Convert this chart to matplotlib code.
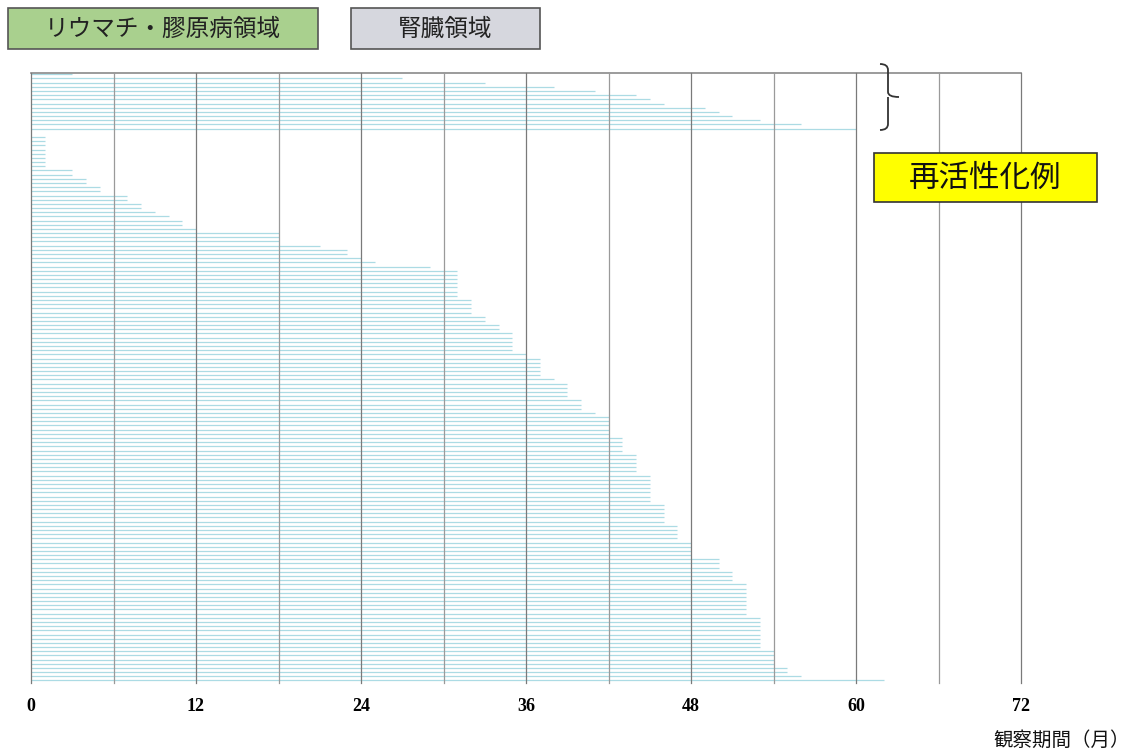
import matplotlib
matplotlib.use("Agg")
import matplotlib.pyplot as plt
from matplotlib.patches import Rectangle
from matplotlib.path import Path
from matplotlib.patches import PathPatch

# 観察期間（月）: 上から順に各症例
reactivated = [3, 27, 33, 38, 41, 44, 45, 46, 49, 50, 51, 53, 56, 60]
others = ([0] + [1] * 8 +
          [3, 3, 4, 4, 5, 5, 7, 7, 8, 8, 9, 10, 11, 11, 12] +
          [18, 18, 18, 21, 23, 23, 24, 25, 29] +
          [31] * 7 + [32] * 4 + [33] * 2 + [34] * 2 + [35] * 5 + [36] +
          [37] * 5 + [38] + [39] * 4 +
          [40] * 3 + [41] + [42] * 5 + [43] * 4 + [44] * 5 + [45] * 7 +
          [46] * 5 + [47] * 4 + [48] * 4 + [50] * 3 + [51] * 3 + [52] * 8 +
          [53] * 8 + [54] * 4 + [55] * 2 + [56] + [62])
durations = reactivated + others

xticks = [0, 12, 24, 36, 48, 60, 72]
grid_months = list(range(0, 73, 6))

W, H = 1135, 755
fig = plt.figure(figsize=(W / 100, H / 100), dpi=100)
fig.patch.set_facecolor("white")

ax = fig.add_axes([31 / W, (H - 683) / H, 990 / W, 610 / H])
rows = list(range(len(durations)))
ax.hlines(rows, 0, durations, color="#acdbe4", lw=0.9, zorder=2)

for m in grid_months:
    ax.axvline(m, color="#7a7a7a" if m % 12 == 0 else "#9a9a9a", lw=0.9,
               zorder=3, clip_on=False)

ax.set_xlim(0, 72)
ax.set_ylim(145.6, -0.3)
for s in ["left", "right", "bottom"]:
    ax.spines[s].set_visible(False)
ax.spines["top"].set_color("#8a8a8a")
ax.spines["top"].set_linewidth(1.2)
ax.set_yticks([])
ax.set_xticks(xticks)
ax.set_xticklabels([str(t) for t in xticks], fontfamily="Liberation Serif",
                   fontweight="bold", fontsize=13)
ax.tick_params(axis="x", length=0, pad=11)

# 注釈用のオーバーレイ（ピクセル座標）
ov = fig.add_axes([0, 0, 1, 1], facecolor="none")
ov.set_xlim(0, W)
ov.set_ylim(H, 0)
ov.axis("off")

jp = ["Noto Sans CJK JP", "DejaVu Sans"]

ov.add_patch(Rectangle((8, 8), 310, 41, facecolor="#a9d08e", edgecolor="#555555", lw=1.2))
ov.text(163, 29, "リウマチ・膠原病領域", ha="center", va="center", fontsize=17,
        family=jp, color="#222222")
ov.add_patch(Rectangle((351, 8), 189, 41, facecolor="#d6d7de", edgecolor="#555555", lw=1.2))
ov.text(445, 29, "腎臓領域", ha="center", va="center", fontsize=17,
        family=jp, color="#222222")

ov.add_patch(Rectangle((874, 153), 223, 49, facecolor="#ffff00", edgecolor="#333333", lw=1.2))
ov.text(985, 178, "再活性化例", ha="center", va="center", fontsize=22,
        family=jp, color="#111111")

# 右中括弧
verts = [(880, 64), (888, 64), (888, 70), (888, 92), (888, 97), (899, 97),
         (888, 97), (888, 102), (888, 124), (888, 130), (880, 130)]
codes = [Path.MOVETO, Path.CURVE3, Path.CURVE3, Path.LINETO, Path.CURVE3, Path.CURVE3,
         Path.MOVETO, Path.CURVE3, Path.LINETO, Path.CURVE3, Path.CURVE3]
ov.add_patch(PathPatch(Path(verts, codes), facecolor="none", edgecolor="#333333", lw=1.3))

ov.text(1062, 740, "観察期間（月）", ha="center", va="center", fontsize=14,
        family=jp, color="#111111")

fig.savefig("out.png", dpi=100)
